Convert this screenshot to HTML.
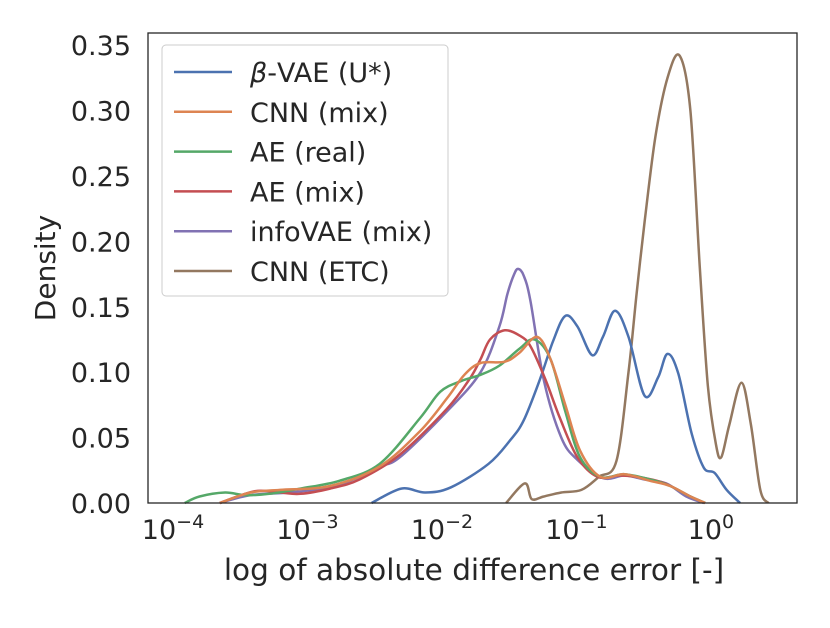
<!DOCTYPE html>
<html><head><meta charset="utf-8"><style>
body{margin:0;background:#fff;}
svg text{font-family:"DejaVu Sans","Liberation Sans",sans-serif;fill:#262626;}
</style></head><body>
<svg id="chart" width="830" height="623" viewBox="0 0 830 623">
<rect x="0" y="0" width="830" height="623" fill="#fff"/>
<g id="ticks"></g>
<g id="series"></g>
<rect x="148" y="33" width="649" height="470" fill="none" stroke="#262626" stroke-width="1.3"/>
<text x="474" y="580" font-size="29.5" text-anchor="middle">log of absolute difference error [-]</text>
<text transform="translate(55,268) rotate(-90)" font-size="28" text-anchor="middle">Density</text>
<g id="legend">
<rect x="162" y="45" width="286" height="251" rx="4" fill="#fff" stroke="#ccc" stroke-width="1"/>
</g>
</svg>
<script>
const xTickExps = [-4, -3, -2, -1, 0];
const yTicks = [0, 0.05, 0.10, 0.15, 0.20, 0.25, 0.30, 0.35];
const yTickLabels = ["0.00","0.05","0.10","0.15","0.20","0.25","0.30","0.35"];
const seriesNames = ["β-VAE (U*)","CNN (mix)","AE (real)","AE (mix)","infoVAE (mix)","CNN (ETC)"];
const seriesColors = ["#4c72b0","#dd8452","#55a868","#c44e52","#8172b3","#937860"];
const betaX = [-2.56,-2.34,-2.16,-1.97,-1.69,-1.53,-1.43,-1.31,-1.21,-1.12,-1.03,-0.92,-0.84,-0.75,-0.65,-0.53,-0.43,-0.36,-0.28,-0.18,-0.09,-0.01,0.08,0.18];
const betaY = [0,0.011,0.008,0.012,0.030,0.048,0.063,0.094,0.124,0.143,0.135,0.113,0.127,0.147,0.127,0.082,0.096,0.114,0.099,0.053,0.027,0.023,0.010,0];
const cnnMixX = [-3.69,-3.46,-3.24,-2.87,-2.50,-2.20,-2.00,-1.87,-1.75,-1.57,-1.46,-1.33,-1.23,-1.12,-1.01,-0.86,-0.68,-0.49,-0.34,-0.19,-0.08];
const cnnMixY = [0,0.008,0.010,0.013,0.028,0.055,0.080,0.098,0.107,0.108,0.115,0.127,0.110,0.075,0.040,0.020,0.022,0.017,0.013,0.005,0];
const aeRealX = [-3.95,-3.84,-3.65,-3.50,-3.32,-3.09,-2.80,-2.50,-2.20,-2.05,-1.90,-1.75,-1.61,-1.46,-1.35,-1.23,-1.12,-1.01,-0.86,-0.68,-0.49,-0.34,-0.19,-0.08];
const aeRealY = [0,0.005,0.008,0.006,0.007,0.011,0.017,0.030,0.065,0.085,0.093,0.098,0.105,0.118,0.125,0.110,0.070,0.035,0.020,0.022,0.018,0.013,0.005,0];
const aeMixX = [-3.69,-3.43,-3.24,-3.09,-2.87,-2.65,-2.35,-2.00,-1.83,-1.75,-1.68,-1.57,-1.46,-1.38,-1.27,-1.16,-1.03,-0.88,-0.71,-0.53,-0.38,-0.19,-0.08];
const aeMixY = [0,0.009,0.008,0.007,0.011,0.018,0.037,0.072,0.095,0.110,0.125,0.132,0.128,0.120,0.095,0.065,0.035,0.020,0.021,0.019,0.015,0.005,0];
const infoX = [-3.69,-3.46,-3.17,-2.87,-2.65,-2.50,-2.35,-2.00,-1.75,-1.61,-1.55,-1.50,-1.47,-1.43,-1.38,-1.28,-1.15,-1.03,-0.84,-0.68,-0.53,-0.37,-0.22,-0.09];
const infoY = [0,0.006,0.008,0.012,0.020,0.028,0.035,0.070,0.100,0.135,0.160,0.175,0.179,0.174,0.155,0.094,0.050,0.033,0.019,0.021,0.018,0.015,0.005,0];
const etcX = [-1.56,-1.42,-1.37,-1.28,-1.15,-1.00,-0.87,-0.74,-0.65,-0.59,-0.53,-0.45,-0.36,-0.27,-0.19,-0.12,-0.06,0.0,0.04,0.10,0.19,0.26,0.33,0.39];
const etcY = [0,0.015,0.003,0.005,0.008,0.010,0.020,0.032,0.100,0.160,0.215,0.280,0.325,0.342,0.300,0.180,0.090,0.045,0.035,0.060,0.092,0.060,0.010,0];

const NS="http://www.w3.org/2000/svg";
const X0=148,X1=797,Y0=503,Y1=33;
const xmin=-4.223,xmax=0.603,ymin=0,ymax=0.3593;
function sx(v){return X0+(v-xmin)/(xmax-xmin)*(X1-X0);}
function sy(v){return Y0-(v-ymin)/(ymax-ymin)*(Y0-Y1);}
function mk(tag,attrs,parent){const e=document.createElementNS(NS,tag);for(const k in attrs)e.setAttribute(k,attrs[k]);parent.appendChild(e);return e;}
const ticks=document.getElementById('ticks');
xTickExps.forEach((e,i)=>{
  const t=mk('text',{x:sx(e)-5,y:539,'font-size':27,'text-anchor':'middle'},ticks);
  
  
  t.appendChild(document.createTextNode('10'));
  const s=document.createElementNS(NS,'tspan');s.setAttribute('dy','-11');s.setAttribute('font-size','19');s.textContent=(e<0?'\u2212'+(-e):String(e));t.appendChild(s);
});
yTicks.forEach((v,i)=>{
  const t=mk('text',{x:131,y:sy(v)+10,'font-size':27,'text-anchor':'end'},ticks);
  
  
  t.textContent=yTickLabels[i];
});
function pathD(xs,ys){
  const p=xs.map((x,i)=>[sx(x),sy(ys[i])]);
  let d='M'+p[0][0].toFixed(1)+','+p[0][1].toFixed(1);
  for(let i=0;i<p.length-1;i++){
    const a=p[i-1]||p[i],b=p[i],c=p[i+1],e=p[i+2]||c;
    let c1y=b[1]+(c[1]-a[1])/6,c2y=c[1]-(e[1]-b[1])/6;
    c1y=Math.min(c1y,Y0);c2y=Math.min(c2y,Y0);
    d+=' C'+(b[0]+(c[0]-a[0])/6).toFixed(1)+','+c1y.toFixed(1)+' '+(c[0]-(e[0]-b[0])/6).toFixed(1)+','+c2y.toFixed(1)+' '+c[0].toFixed(1)+','+c[1].toFixed(1);
  }
  return d;
}
const sg=document.getElementById('series');
const allX=[betaX,cnnMixX,aeRealX,aeMixX,infoX,etcX],allY=[betaY,cnnMixY,aeRealY,aeMixY,infoY,etcY];
const names=['series-beta-vae','series-cnn-mix','series-ae-real','series-ae-mix','series-infovae-mix','series-cnn-etc'];
const order=[5,0,4,3,2,1];
order.forEach(i=>{
  const p=mk('path',{d:pathD(allX[i],allY[i]),fill:'none',stroke:seriesColors[i],'stroke-width':2.5,'stroke-linejoin':'round'},sg);
  
  
});
const lg=document.getElementById('legend');
seriesNames.forEach((n,i)=>{
  const y=72+i*39.8;
  const g=mk('g',{},lg);
  
  
  mk('line',{x1:174,x2:232,y1:y,y2:y,stroke:seriesColors[i],'stroke-width':2.5},g);
  const t=mk('text',{x:250,y:y+10,'font-size':27},g);
  if(i===0){const s=document.createElementNS(NS,'tspan');s.setAttribute('font-style','italic');s.textContent='β';t.appendChild(s);t.appendChild(document.createTextNode('-VAE (U*)'));}
  else t.textContent=n;
});
</script>
</body></html>
